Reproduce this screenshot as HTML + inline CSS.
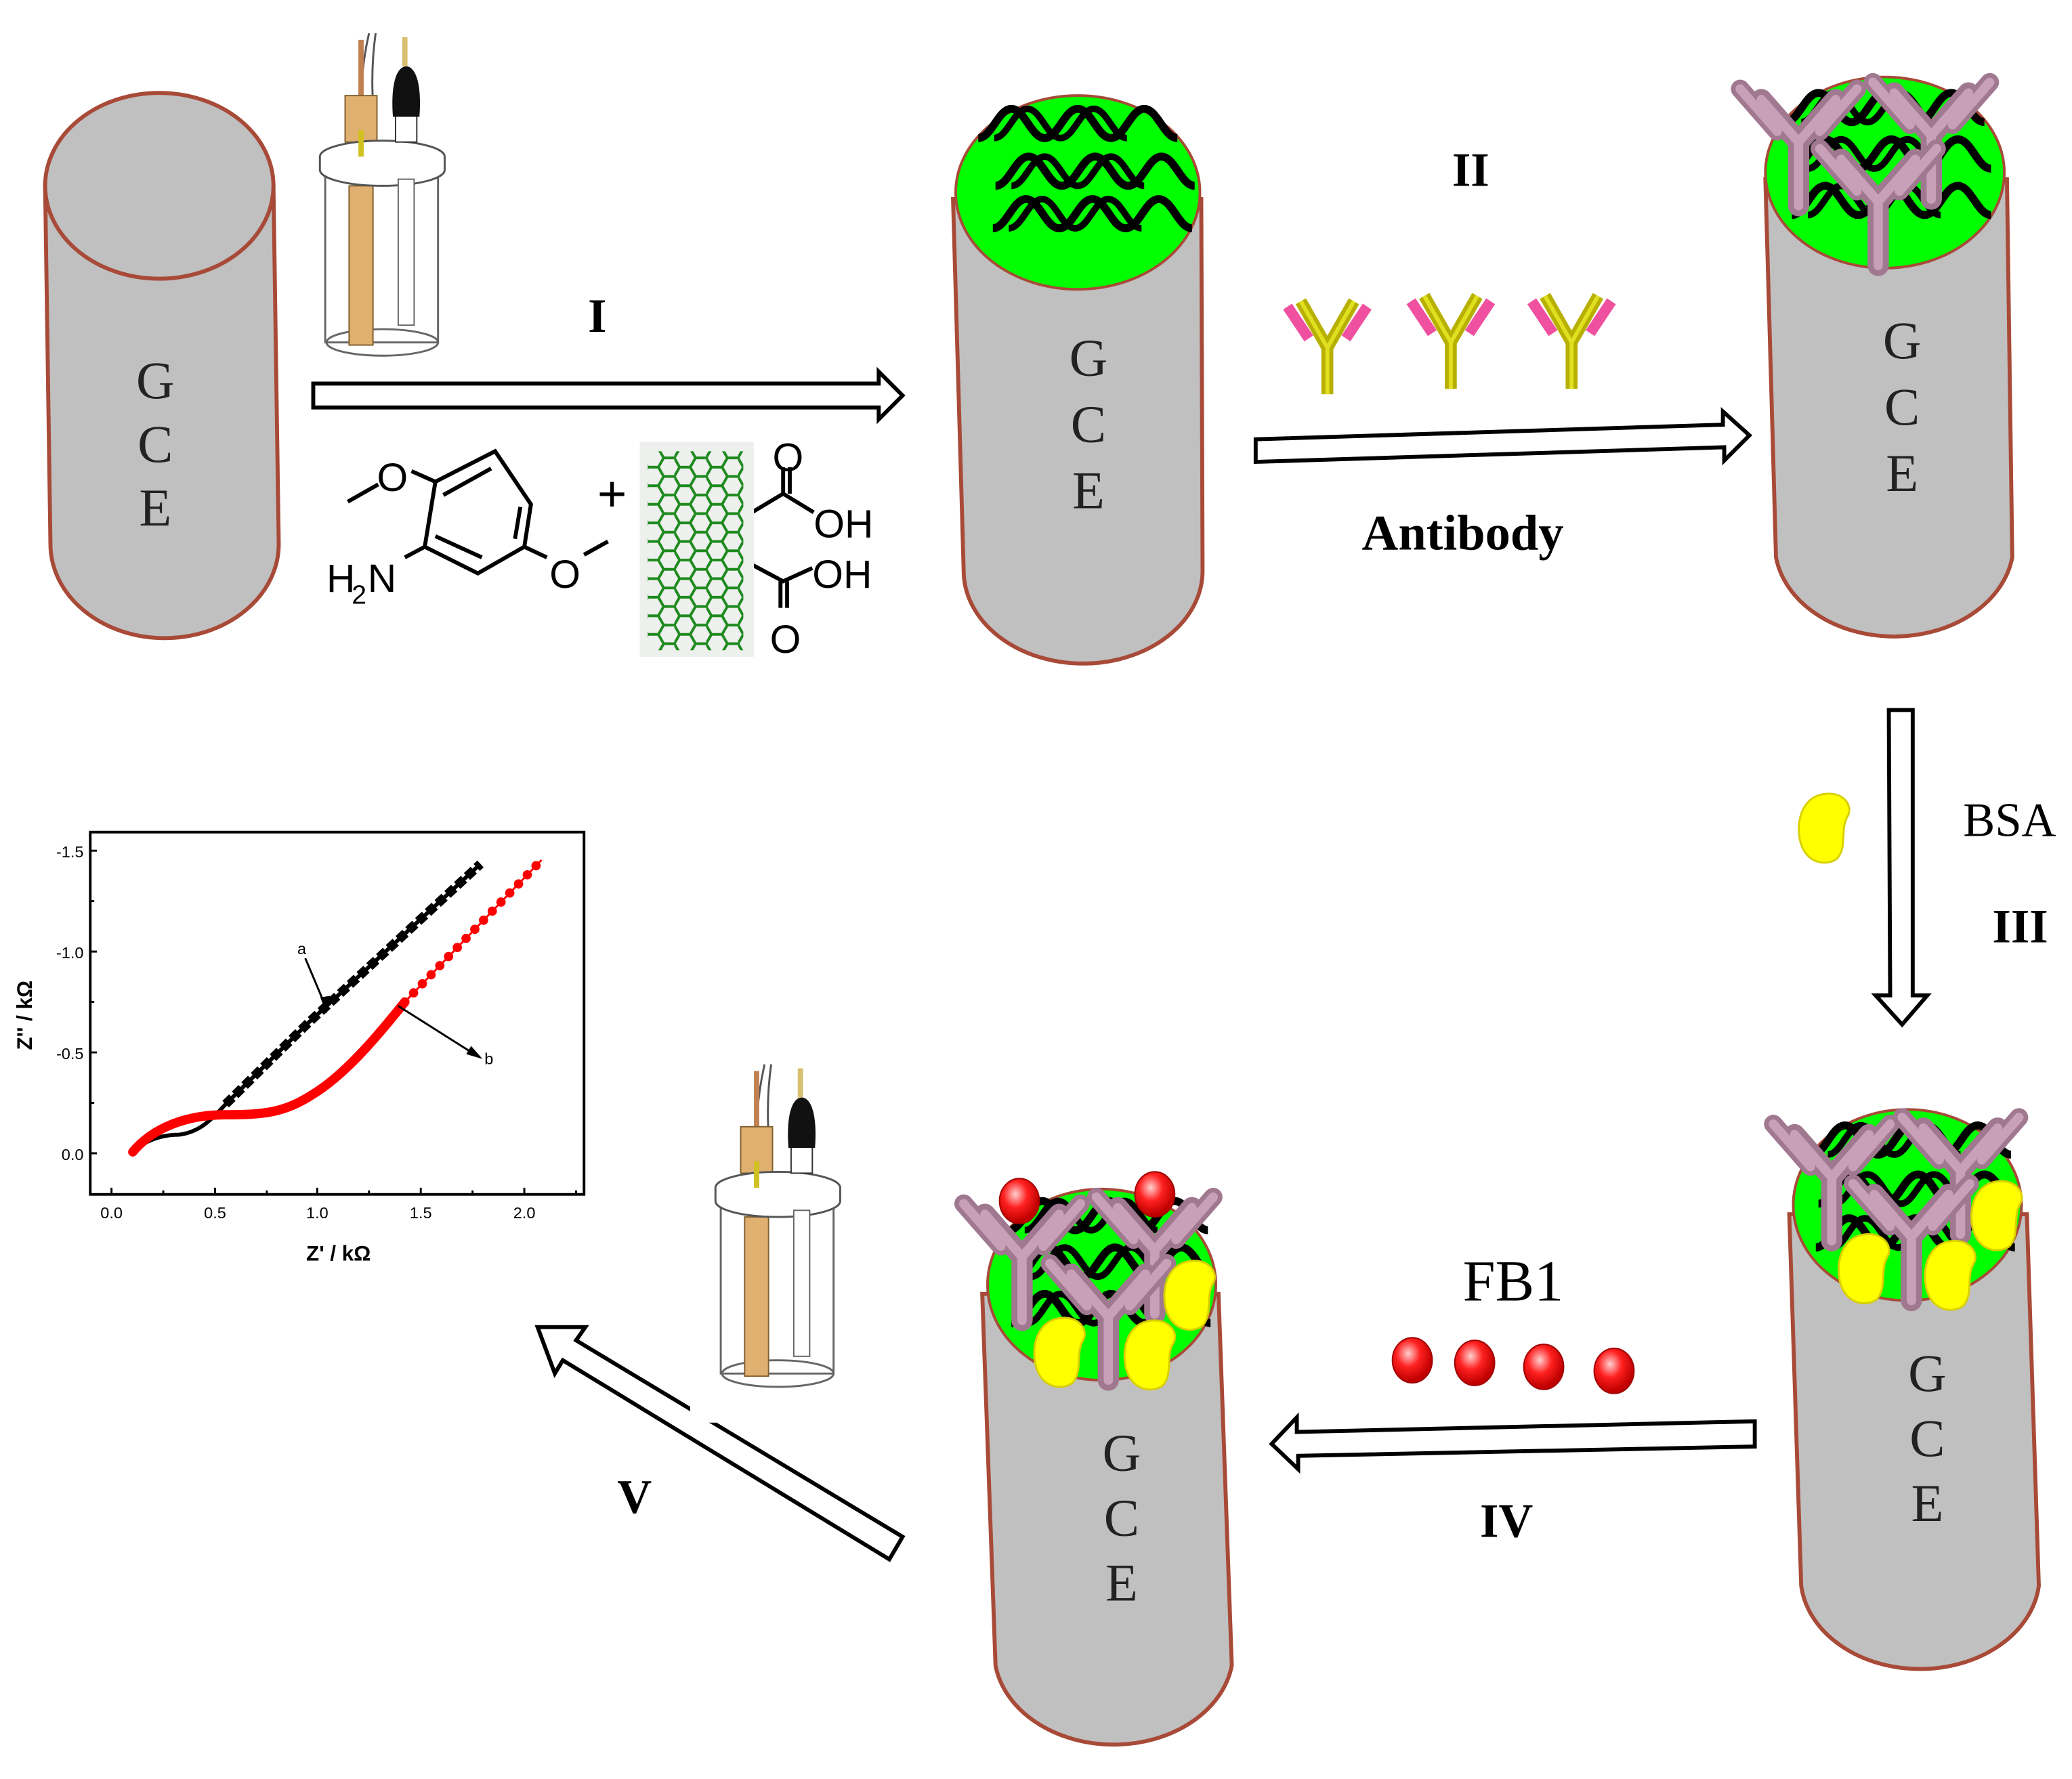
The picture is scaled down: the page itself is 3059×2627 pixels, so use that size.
<!DOCTYPE html>
<html><head><meta charset="utf-8"><style>html,body{margin:0;padding:0;background:#fff}svg{display:block}</style></head><body>
<svg width="3059" height="2627" viewBox="0 0 1561 1340.5" xmlns="http://www.w3.org/2000/svg" font-family="Liberation Serif, serif">
<defs>
<pattern id="hex" width="24" height="14" patternUnits="userSpaceOnUse" x="484" y="338">
<path d="M0,7 L4,0 L12,0 L16,7 L12,14 L4,14 Z M16,7 L24,7" fill="none" stroke="#1d8a1d" stroke-width="2"/>
</pattern>
<g id="dnarow">
<path d="M0,22 C10,22 15,0 25,0 C35,0 40,22 50,22 C60,22 65,0 75,0 C85,0 90,22 100,22 C110,22 115,0 125,0 C135,0 140,22 150,22" fill="none" stroke="#000" stroke-width="6"/>
<path d="M12,22 C22,22 27,0 37,0 C47,0 52,22 62,22 C72,22 77,0 87,0 C97,0 102,22 112,22" fill="none" stroke="#000" stroke-width="5"/>
</g>
<g id="ab" stroke-linecap="round">
<path d="M0,0 L0,-48 M0,-48 L-28,-80 M0,-48 L28,-80" stroke="#a07890" stroke-width="16" fill="none"/>
<path d="M-16,-56 L-44,-88 M16,-56 L44,-88" stroke="#a07890" stroke-width="14" fill="none"/>
<path d="M0,0 L0,-48 M0,-48 L-28,-80 M0,-48 L28,-80 M-16,-56 L-44,-88 M16,-56 L44,-88" stroke="#c8a0b8" stroke-width="7" fill="none"/>
</g>
<g id="yab">
<path d="M0,0 L0,-35 L-20,-70 M0,-35 L20,-70" stroke="#b8b000" stroke-width="9" fill="none"/>
<path d="M0,0 L0,-35 L-20,-70 M0,-35 L20,-70" stroke="#e0e020" stroke-width="3" fill="none"/>
<path d="M-14,-42 L-30,-66 M14,-42 L30,-66" stroke="#f050a0" stroke-width="8" fill="none"/>
</g>
<g id="bsa"><path d="M0,-25 C-20,-25 -25,-5 -22,10 C-18,28 -2,30 6,24 C14,15 8,2 14,-8 C18,-15 12,-25 0,-25 Z" fill="#ffff00" stroke="#d8d000" stroke-width="1.5"/></g>
<radialGradient id="rb" cx="0.4" cy="0.35" r="0.6"><stop offset="0" stop-color="#ffd0d0"/><stop offset="0.5" stop-color="#ff2020"/><stop offset="1" stop-color="#c00000"/></radialGradient>
<g id="fb"><ellipse cx="0" cy="0" rx="15" ry="17" fill="url(#rb)" stroke="#a00000" stroke-width="1"/></g>
<g id="cell">
<rect x="245" y="118" width="85" height="140" fill="none" stroke="#666" stroke-width="1.5"/>
<ellipse cx="288" cy="258" rx="42" ry="10" fill="none" stroke="#666" stroke-width="1.5"/>
<path d="M278,25 Q270,60 272,100 M283,25 Q278,60 283,100" fill="none" stroke="#555" stroke-width="1.5"/>
<rect x="263" y="140" width="18" height="120" fill="#e0b070" stroke="#806030"/>
<rect x="270" y="30" width="4" height="45" fill="#c08050"/>
<rect x="260" y="72" width="24" height="35" fill="#e0b070" stroke="#806030"/>
<ellipse cx="288" cy="118" rx="47" ry="12" fill="#fff" stroke="#555" stroke-width="1.5"/>
<path d="M241,118 L241,128 A47,12 0 0 0 335,128 L335,118" fill="#fff" stroke="#555" stroke-width="1.5"/>
<rect x="298" y="85" width="16" height="22" fill="#fff" stroke="#333"/>
<path d="M296,88 C294,60 300,50 306,50 C312,50 318,60 316,88 Z" fill="#111"/>
<rect x="303" y="28" width="4" height="22" fill="#d8c070"/>
<rect x="300" y="135" width="12" height="110" fill="#fff" stroke="#666"/>
<rect x="270" y="98" width="4" height="20" fill="#d0c020"/>
</g>
</defs>
<rect width="1561" height="1341" fill="#fff"/>

<!-- cylinder 1 -->
<path d="M34,140 L38,410 A85,70 0 0 0 210,410 L206,140 Z" fill="#c0c0c0" stroke="#a84a38" stroke-width="3"/>
<ellipse cx="120" cy="140" rx="86" ry="70" fill="#c0c0c0" stroke="#a84a38" stroke-width="3"/>
<g font-size="40" fill="#222" text-anchor="middle"><text x="117" y="300">G</text><text x="117" y="348">C</text><text x="117" y="396">E</text></g>

<!-- cylinder 2 -->
<path d="M718,150 L726,430 A90,70 0 0 0 906,430 L905,150 Z" fill="#c0c0c0" stroke="#a84a38" stroke-width="3"/>
<ellipse cx="812" cy="145" rx="92" ry="73" fill="#00ff00" stroke="#a84a38" stroke-width="2"/>
<use href="#dnarow" x="737" y="82"/><use href="#dnarow" x="750" y="118"/><use href="#dnarow" x="748" y="150"/>
<g font-size="40" fill="#222" text-anchor="middle"><text x="820" y="283">G</text><text x="820" y="333">C</text><text x="820" y="383">E</text></g>

<!-- cylinder 3 -->
<path d="M1330,135 L1338,420 A90,70 0 0 0 1516,420 L1512,135 Z" fill="#c0c0c0" stroke="#a84a38" stroke-width="3"/>
<ellipse cx="1420" cy="130" rx="90" ry="72" fill="#00ff00" stroke="#a84a38" stroke-width="2"/>
<use href="#dnarow" x="1345" y="70"/><use href="#dnarow" x="1350" y="105"/><use href="#dnarow" x="1350" y="140"/>
<use href="#ab" x="1355" y="155"/><use href="#ab" x="1455" y="150"/><use href="#ab" x="1415" y="200"/>
<g font-size="40" fill="#222" text-anchor="middle"><text x="1433" y="270">G</text><text x="1433" y="320">C</text><text x="1433" y="370">E</text></g>

<!-- cylinder 4 -->
<path d="M1348,915 L1357,1195 A90,70 0 0 0 1536,1195 L1527,915 Z" fill="#c0c0c0" stroke="#a84a38" stroke-width="3"/>
<ellipse cx="1437" cy="908" rx="86" ry="72" fill="#00ff00" stroke="#a84a38" stroke-width="2"/>
<use href="#dnarow" x="1365" y="848"/><use href="#dnarow" x="1370" y="885"/><use href="#dnarow" x="1368" y="918"/>
<use href="#ab" x="1380" y="935"/><use href="#ab" x="1477" y="930"/><use href="#ab" x="1440" y="980"/>
<use href="#bsa" x="1508" y="915"/><use href="#bsa" x="1408" y="955"/><use href="#bsa" x="1473" y="960"/>
<g font-size="40" fill="#222" text-anchor="middle"><text x="1452" y="1048">G</text><text x="1452" y="1097">C</text><text x="1452" y="1146">E</text></g>

<!-- cylinder 5 -->
<path d="M740,975 L750,1255 A90,70 0 0 0 928,1255 L918,975 Z" fill="#c0c0c0" stroke="#a84a38" stroke-width="3"/>
<ellipse cx="830" cy="968" rx="86" ry="72" fill="#00ff00" stroke="#a84a38" stroke-width="2"/>
<use href="#dnarow" x="760" y="905"/><use href="#dnarow" x="765" y="940"/><use href="#dnarow" x="762" y="975"/>
<use href="#ab" x="770" y="995"/><use href="#ab" x="870" y="990"/><use href="#ab" x="835" y="1040"/>
<use href="#bsa" x="900" y="975"/><use href="#bsa" x="802" y="1018"/><use href="#bsa" x="870" y="1020"/>
<use href="#fb" x="768" y="905"/><use href="#fb" x="870" y="900"/>
<g font-size="40" fill="#222" text-anchor="middle"><text x="845" y="1108">G</text><text x="845" y="1157">C</text><text x="845" y="1206">E</text></g>

<!-- arrows -->
<path d="M236,289 L662,289 L662,280 L680,298 L662,316 L662,307 L236,307 Z" fill="#fff" stroke="#000" stroke-width="3"/>
<path d="M946,331 L1298,320 L1298,310 L1318,328 L1299,347 L1299,337 L946,348 Z" fill="#fff" stroke="#000" stroke-width="3"/>
<path d="M1423,535 L1441,535 L1441,750 L1452,750 L1433,772 L1413,750 L1424,750 Z" fill="#fff" stroke="#000" stroke-width="3"/>
<path d="M1322,1071 L1322,1090 L978,1097 L978,1107 L958,1088 L977,1068 L977,1079 Z" fill="#fff" stroke="#000" stroke-width="3"/>
<path d="M680,1158 L670,1175 L424,1025 L418,1035 L405,1000 L441,1000 L434,1010 Z" fill="#fff" stroke="#000" stroke-width="3"/>
<rect x="520" y="1050" width="20" height="22" fill="#fff"/>

<!-- labels -->
<g font-weight="bold" fill="#000" text-anchor="middle">
<text x="450" y="250" font-size="36">I</text>
<text x="1108" y="140" font-size="36">II</text>
<text x="1102" y="414" font-size="38">Antibody</text>
<text x="1522" y="710" font-size="36">III</text>
<text x="1135" y="1158" font-size="36">IV</text>
<text x="478" y="1140" font-size="36">V</text>
</g>
<text x="1514" y="630" font-size="36" text-anchor="middle">BSA</text>
<text x="1140" y="980" font-size="44" text-anchor="middle">FB1</text>

<!-- small antibodies, BSA, FB1 -->
<use href="#yab" x="1000" y="297"/><use href="#yab" x="1093" y="293"/><use href="#yab" x="1184" y="293"/>
<use href="#bsa" x="1378" y="623"/>
<use href="#fb" x="1064" y="1025"/><use href="#fb" x="1111" y="1027"/><use href="#fb" x="1163" y="1030"/><use href="#fb" x="1216" y="1033"/>

<!-- cells -->
<use href="#cell"/>
<use href="#cell" transform="translate(298,777)"/>

<!-- chemistry -->
<g stroke="#000" stroke-width="3" fill="none">
<path d="M328,363 L373,340 L400,380 L395,412 L360,432 L320,412 L328,363"/>
<path d="M334,373 L370,353 M392,382 L388,406 M363,420 L328,404"/>
<path d="M328,363 L310,355 M262,378 L285,365 M320,412 L305,420 M395,412 L412,420 M440,418 L458,408"/>
<path d="M560,390 L590,372 L613,386 M590,372 L590,352 M595,372 L595,352 M560,422 L590,438 L612,428 M588,438 L588,458 M593,438 L593,458"/>
</g>
<g font-family="Liberation Sans, sans-serif" font-size="30" fill="#000">
<text x="284" y="370">O</text><text x="414" y="443">O</text>
<text x="246" y="446">H</text><text x="265" y="455" font-size="20">2</text><text x="277" y="446">N</text>
<text x="450" y="385" font-size="38">+</text>
<text x="582" y="355">O</text><text x="613" y="405">OH</text><text x="612" y="443">OH</text><text x="580" y="492">O</text>
</g>
<rect x="482" y="333" width="86" height="162" fill="#eef0ee"/>
<rect x="488" y="340" width="72" height="150" fill="url(#hex)"/>

<!-- plot -->
<rect x="68" y="627" width="372" height="273" fill="#fff" stroke="#000" stroke-width="2"/>
<g stroke="#000" stroke-width="1.5">
<path d="M68,641 h5 M68,717 h5 M68,793 h5 M68,869 h5 M68,679 h3 M68,755 h3 M68,831 h3"/>
<path d="M84,900 v-5 M162,900 v-5 M239,900 v-5 M317,900 v-5 M395,900 v-5 M123,900 v-3 M201,900 v-3 M278,900 v-3 M356,900 v-3 M434,900 v-3"/>
</g>
<g font-family="Liberation Sans, sans-serif" font-size="12" fill="#000">
<g text-anchor="end"><text x="63" y="646">-1.5</text><text x="63" y="722">-1.0</text><text x="63" y="798">-0.5</text><text x="63" y="874">0.0</text></g>
<g text-anchor="middle"><text x="84" y="918">0.0</text><text x="162" y="918">0.5</text><text x="239" y="918">1.0</text><text x="317" y="918">1.5</text><text x="395" y="918">2.0</text></g>
<text x="255" y="950" text-anchor="middle" font-weight="bold" font-size="16">Z' / kΩ</text>
<text transform="translate(24,765) rotate(-90)" text-anchor="middle" font-weight="bold" font-size="16">Z'' / kΩ</text>
<text x="224" y="719">a</text><text x="365" y="802">b</text>
</g>
<path d="M98,868 C110,860 120,855 135,855 C150,853 158,845 170,832 L232,771 L362,651" fill="none" stroke="#000" stroke-width="3"/>
<path d="M170,832 L232,771 L362,651" fill="none" stroke="#000" stroke-width="7" stroke-dasharray="7 3"/>
<path d="M100,868 C115,850 140,840 170,840 C200,840 215,838 235,825 C260,810 285,780 305,755" fill="none" stroke="#ff0000" stroke-width="7" stroke-linecap="round"/>
<path d="M305,755 L408,648" fill="none" stroke="#ff0000" stroke-width="7" stroke-dasharray="0 9.5" stroke-linecap="round"/>
<path d="M305,755 L408,648" fill="none" stroke="#ff0000" stroke-width="1.5"/>
<path d="M230,722 L246,760 M300,758 L360,796" stroke="#000" stroke-width="1.5"/>
<path d="M242,752 L246,762 L248,751 Z M352,794 L362,797 L355,789 Z" fill="#000" stroke="#000"/>
</svg>
</body></html>
